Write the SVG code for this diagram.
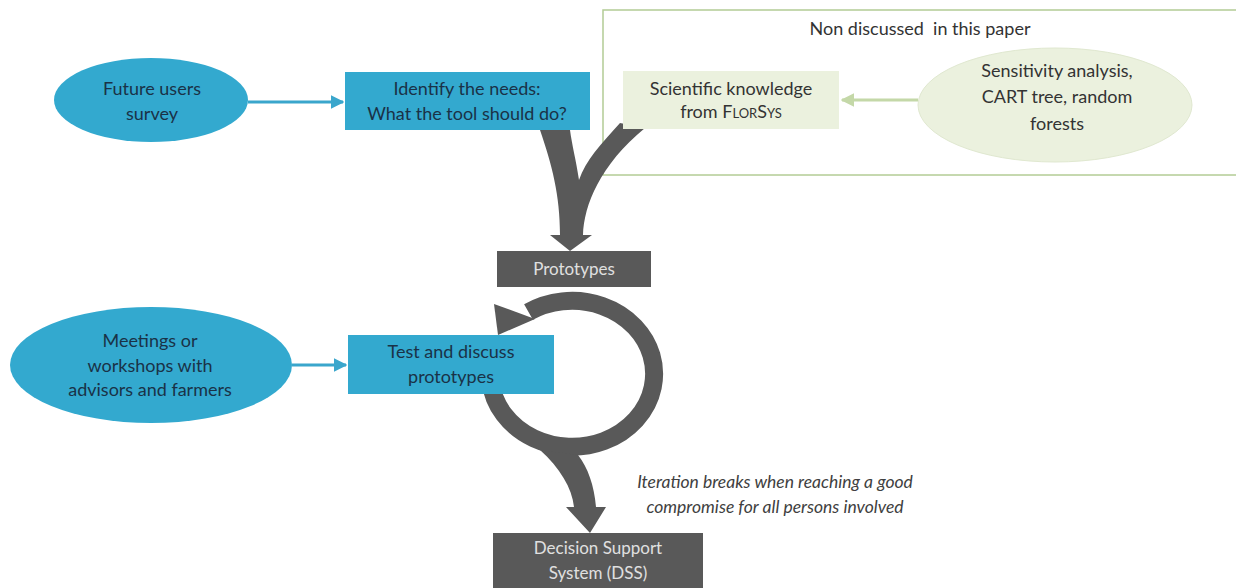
<svg xmlns="http://www.w3.org/2000/svg" width="1236" height="588" viewBox="0 0 1236 588">
<style>
.blue{fill:#33A9CF}
.green{fill:#EBF1DE}
.dark{fill:#595959}
.t{font-family:Lato,"Liberation Sans",sans-serif;font-size:18px;text-anchor:middle}
.tb{fill:#1A3247}
.tg{fill:#333333}
.tw{fill:#E0E0E0;font-size:17px}
.ti{font-style:italic;fill:#404040;font-size:17.5px}
.bl{stroke:#3AA6CC;stroke-width:3;fill:none}
.gl{stroke:#C4D8A8;stroke-width:3;fill:none}
</style>
<defs>
<marker id="ab" viewBox="0 0 10 10" refX="9" refY="5" markerWidth="4.5" markerHeight="4.5" orient="auto" markerUnits="strokeWidth"><path d="M0,0 L10,5 L0,10 Z" fill="#3AA6CC"/></marker>
<marker id="ag" viewBox="0 0 10 10" refX="9" refY="5" markerWidth="4.5" markerHeight="4.5" orient="auto" markerUnits="strokeWidth"><path d="M0,0 L10,5 L0,10 Z" fill="#C4D8A8"/></marker>
</defs>
<rect x="0" y="0" width="1236" height="588" fill="#FFFFFF"/>

<g id="frame">
<rect x="603" y="10" width="640" height="165" fill="none" stroke="#B3CC95" stroke-width="1.5"/>
<text class="t tg" x="920" y="35" font-size="17" xml:space="preserve">Non discussed  in this paper</text>
</g>

<g id="connectors">
<line class="bl" x1="248" y1="102" x2="343" y2="102" marker-end="url(#ab)"/>
<line class="bl" x1="292" y1="365" x2="346" y2="365" marker-end="url(#ab)"/>
<line class="gl" x1="918" y1="100" x2="842" y2="100" marker-end="url(#ag)"/>
<path class="dark" d="M540,130 C552,165 560,195 560,235 L550,235 L570,251 L592,235 L583,235 C584,205 600,165 645,128 L620,123 C600,145 586,160 579,180 C576,160 572,145 570,130 Z"/>
<path d="M528.5,312 A82 73 0 1 1 495,349" fill="none" stroke="#595959" stroke-width="18"/>
<polygon class="dark" points="494,304 535,319 498,335"/>
<path class="dark" d="M540,450 C560,468 572,488 574,507 L566,507 L590,533 L606,507 L596,507 C594,485 588,468 578,455 Z"/>
</g>

<g id="future-users">
<ellipse class="blue" cx="151" cy="100" rx="97" ry="42"/>
<text class="t tb" x="152" y="95">Future users</text>
<text class="t tb" x="152" y="120">survey</text>
</g>

<g id="identify">
<rect class="blue" x="345" y="72" width="245" height="58"/>
<text class="t tb" x="467" y="95">Identify the needs:</text>
<text class="t tb" x="467" y="120">What the tool should do?</text>
</g>

<g id="scientific">
<rect class="green" x="623" y="71" width="216" height="58"/>
<text class="t tg" x="731" y="95">Scientific knowledge</text>
<text class="t tg" x="731" y="118">from F<tspan font-size="13">LOR</tspan>S<tspan font-size="13">YS</tspan></text>
</g>

<g id="sensitivity">
<ellipse class="green" cx="1055" cy="105" rx="137" ry="57" stroke="#E0E8D0" stroke-width="1"/>
<text class="t tg" x="1057" y="77">Sensitivity analysis,</text>
<text class="t tg" x="1057" y="103">CART tree, random</text>
<text class="t tg" x="1057" y="130">forests</text>
</g>

<g id="prototypes">
<rect class="dark" x="497" y="251" width="154" height="36"/>
<text class="t tw" x="574" y="275">Prototypes</text>
</g>

<g id="meetings">
<ellipse class="blue" cx="151" cy="365" rx="141" ry="58"/>
<text class="t tb" x="150" y="347">Meetings or</text>
<text class="t tb" x="150" y="372">workshops with</text>
<text class="t tb" x="150" y="396">advisors and farmers</text>
</g>

<g id="test">
<rect class="blue" x="348" y="335" width="206" height="59"/>
<text class="t tb" x="451" y="358">Test and discuss</text>
<text class="t tb" x="451" y="383">prototypes</text>
</g>

<g id="iteration-note">
<text class="t ti" x="775" y="488">Iteration breaks when reaching a good</text>
<text class="t ti" x="775" y="513">compromise for all persons involved</text>
</g>

<g id="dss">
<rect class="dark" x="493" y="533" width="210" height="60"/>
<text class="t tw" x="598" y="554">Decision Support</text>
<text class="t tw" x="598" y="579">System (DSS)</text>
</g>
</svg>
